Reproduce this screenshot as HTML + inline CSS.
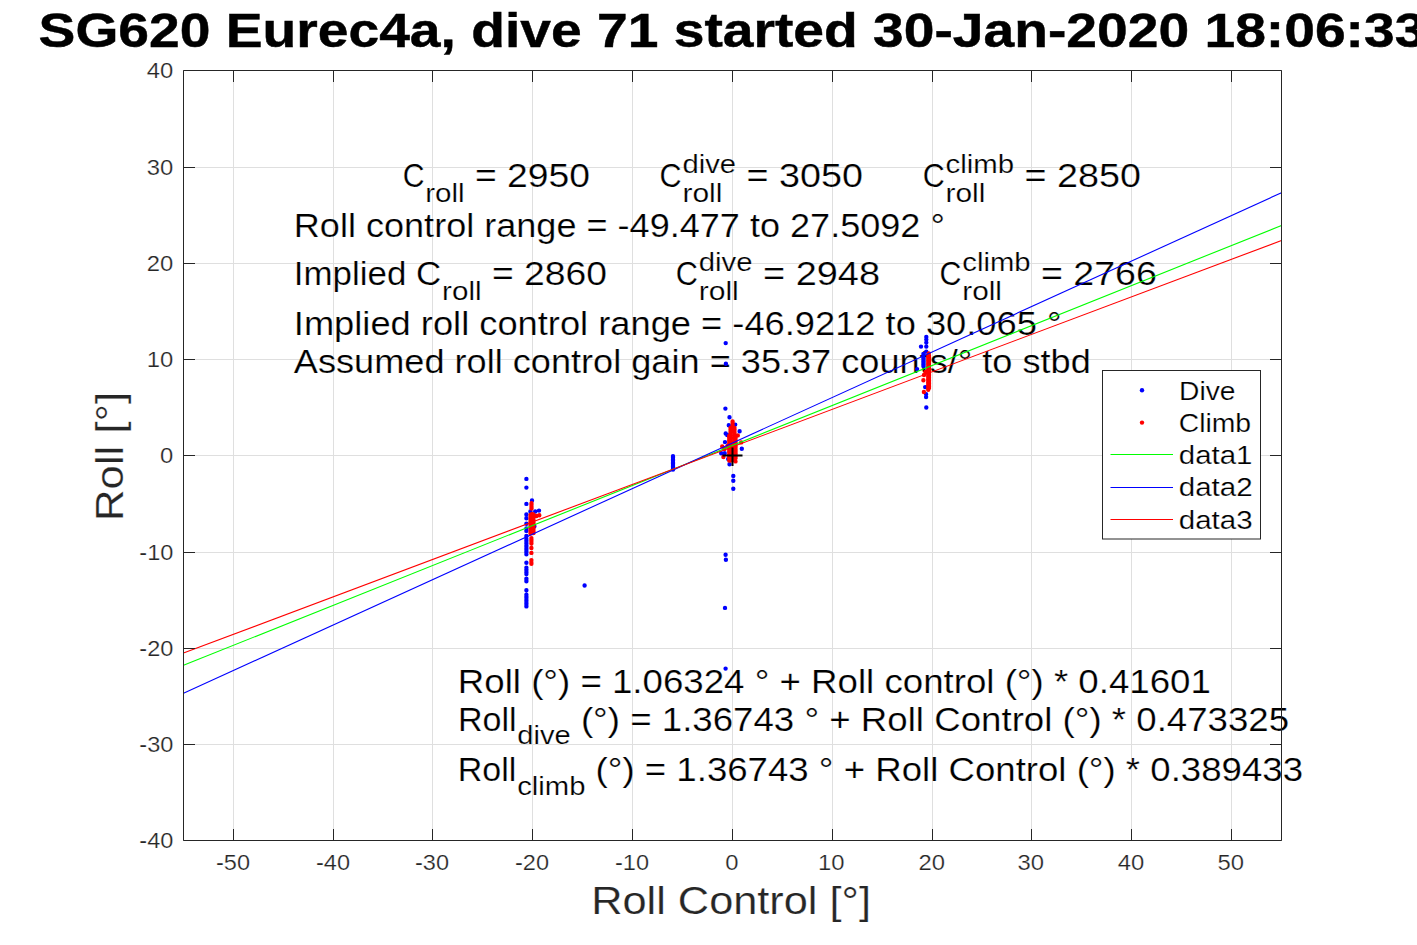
<!DOCTYPE html>
<html><head><meta charset="utf-8"><title>SG620 Eurec4a roll</title>
<style>
html,body{margin:0;padding:0;background:#fff;overflow:hidden;}
svg{display:block;font-family:"Liberation Sans",sans-serif;}
text.r{stroke:#fff;stroke-width:0.22px;}
text.b{stroke:#000;stroke-width:0.45px;}
</style></head><body>
<svg width="1417" height="945" viewBox="0 0 1417 945">
<rect width="1417" height="945" fill="#fff"/>
<path d="M233.5 70.5V840.5M333.5 70.5V840.5M432.5 70.5V840.5M532.5 70.5V840.5M632.5 70.5V840.5M732.5 70.5V840.5M832.5 70.5V840.5M932.5 70.5V840.5M1031.5 70.5V840.5M1131.5 70.5V840.5M1231.5 70.5V840.5M183.5 744.5H1281.5M183.5 648.5H1281.5M183.5 552.5H1281.5M183.5 455.5H1281.5M183.5 359.5H1281.5M183.5 263.5H1281.5M183.5 167.5H1281.5" stroke="#dfdfdf" stroke-width="1" fill="none"/>
<text class="r" x="402.65" y="186.90" font-size="32.81" fill="#000" textLength="21.79" lengthAdjust="spacingAndGlyphs" style="white-space:pre">C</text>
<text class="r" x="425.23" y="201.90" font-size="26.25" fill="#000" textLength="39.41" lengthAdjust="spacingAndGlyphs" style="white-space:pre">roll</text>
<text class="r" x="464.64" y="186.90" font-size="32.81" fill="#000" textLength="125.39" lengthAdjust="spacingAndGlyphs" style="white-space:pre"> = 2950</text>
<text class="r" x="659.58" y="186.90" font-size="32.81" fill="#000" textLength="22.06" lengthAdjust="spacingAndGlyphs" style="white-space:pre">C</text>
<text class="r" x="682.45" y="201.90" font-size="26.25" fill="#000" textLength="39.90" lengthAdjust="spacingAndGlyphs" style="white-space:pre">roll</text>
<text class="r" x="682.45" y="172.90" font-size="26.25" fill="#000" textLength="53.58" lengthAdjust="spacingAndGlyphs" style="white-space:pre">dive</text>
<text class="r" x="736.03" y="186.90" font-size="32.81" fill="#000" textLength="126.97" lengthAdjust="spacingAndGlyphs" style="white-space:pre"> = 3050</text>
<text class="r" x="922.73" y="186.90" font-size="32.81" fill="#000" textLength="22.03" lengthAdjust="spacingAndGlyphs" style="white-space:pre">C</text>
<text class="r" x="945.57" y="201.90" font-size="26.25" fill="#000" textLength="39.85" lengthAdjust="spacingAndGlyphs" style="white-space:pre">roll</text>
<text class="r" x="945.57" y="172.90" font-size="26.25" fill="#000" textLength="68.52" lengthAdjust="spacingAndGlyphs" style="white-space:pre">climb</text>
<text class="r" x="1014.09" y="186.90" font-size="32.81" fill="#000" textLength="126.81" lengthAdjust="spacingAndGlyphs" style="white-space:pre"> = 2850</text>
<text class="r" x="293.83" y="237.00" font-size="32.81" fill="#000" textLength="651.00" lengthAdjust="spacingAndGlyphs" style="white-space:pre">Roll control range = -49.477 to 27.5092 °</text>
<text class="r" x="293.84" y="285.00" font-size="32.81" fill="#000" textLength="147.49" lengthAdjust="spacingAndGlyphs" style="white-space:pre">Implied C</text>
<text class="r" x="442.13" y="299.80" font-size="26.25" fill="#000" textLength="39.42" lengthAdjust="spacingAndGlyphs" style="white-space:pre">roll</text>
<text class="r" x="481.55" y="285.00" font-size="32.81" fill="#000" textLength="125.43" lengthAdjust="spacingAndGlyphs" style="white-space:pre"> = 2860</text>
<text class="r" x="675.72" y="285.00" font-size="32.81" fill="#000" textLength="22.15" lengthAdjust="spacingAndGlyphs" style="white-space:pre">C</text>
<text class="r" x="698.68" y="300.00" font-size="26.25" fill="#000" textLength="40.07" lengthAdjust="spacingAndGlyphs" style="white-space:pre">roll</text>
<text class="r" x="698.68" y="271.00" font-size="26.25" fill="#000" textLength="53.80" lengthAdjust="spacingAndGlyphs" style="white-space:pre">dive</text>
<text class="r" x="752.48" y="285.00" font-size="32.81" fill="#000" textLength="127.49" lengthAdjust="spacingAndGlyphs" style="white-space:pre"> = 2948</text>
<text class="r" x="939.59" y="285.00" font-size="32.81" fill="#000" textLength="21.93" lengthAdjust="spacingAndGlyphs" style="white-space:pre">C</text>
<text class="r" x="962.32" y="300.00" font-size="26.25" fill="#000" textLength="39.67" lengthAdjust="spacingAndGlyphs" style="white-space:pre">roll</text>
<text class="r" x="962.32" y="271.00" font-size="26.25" fill="#000" textLength="68.22" lengthAdjust="spacingAndGlyphs" style="white-space:pre">climb</text>
<text class="r" x="1030.54" y="285.00" font-size="32.81" fill="#000" textLength="126.24" lengthAdjust="spacingAndGlyphs" style="white-space:pre"> = 2766</text>
<text class="r" x="293.83" y="334.80" font-size="32.81" fill="#000" textLength="767.64" lengthAdjust="spacingAndGlyphs" style="white-space:pre">Implied roll control range = -46.9212 to 30.065 °</text>
<text class="r" x="293.86" y="372.90" font-size="32.81" fill="#000" textLength="796.89" lengthAdjust="spacingAndGlyphs" style="white-space:pre">Assumed roll control gain = 35.37 counts/° to stbd</text>
<text class="r" x="457.81" y="692.90" font-size="32.81" fill="#000" textLength="753.06" lengthAdjust="spacingAndGlyphs" style="white-space:pre">Roll (°) = 1.06324 ° + Roll control (°) * 0.41601</text>
<text class="r" x="457.91" y="730.80" font-size="32.81" fill="#000" textLength="58.63" lengthAdjust="spacingAndGlyphs" style="white-space:pre">Roll</text>
<text class="r" x="517.34" y="744.40" font-size="26.25" fill="#000" textLength="53.38" lengthAdjust="spacingAndGlyphs" style="white-space:pre">dive</text>
<text class="r" x="570.73" y="730.80" font-size="32.81" fill="#000" textLength="718.43" lengthAdjust="spacingAndGlyphs" style="white-space:pre"> (°) = 1.36743 ° + Roll Control (°) * 0.473325</text>
<text class="r" x="457.81" y="781.00" font-size="32.81" fill="#000" textLength="58.56" lengthAdjust="spacingAndGlyphs" style="white-space:pre">Roll</text>
<text class="r" x="517.18" y="794.80" font-size="26.25" fill="#000" textLength="68.28" lengthAdjust="spacingAndGlyphs" style="white-space:pre">climb</text>
<text class="r" x="585.45" y="781.00" font-size="32.81" fill="#000" textLength="717.56" lengthAdjust="spacingAndGlyphs" style="white-space:pre"> (°) = 1.36743 ° + Roll Control (°) * 0.389433</text>
<path d="M524.2 478.9a2.2 2.2 0 1 0 4.4 0a2.2 2.2 0 1 0 -4.4 0M524.2 487.6a2.2 2.2 0 1 0 4.4 0a2.2 2.2 0 1 0 -4.4 0M529.8 500.5a2.2 2.2 0 1 0 4.4 0a2.2 2.2 0 1 0 -4.4 0M524.2 503.9a2.2 2.2 0 1 0 4.4 0a2.2 2.2 0 1 0 -4.4 0M528.2 511.5a2.2 2.2 0 1 0 4.4 0a2.2 2.2 0 1 0 -4.4 0M533.0 511.5a2.2 2.2 0 1 0 4.4 0a2.2 2.2 0 1 0 -4.4 0M536.8 510.6a2.2 2.2 0 1 0 4.4 0a2.2 2.2 0 1 0 -4.4 0M524.2 514.4a2.2 2.2 0 1 0 4.4 0a2.2 2.2 0 1 0 -4.4 0M524.2 518.3a2.2 2.2 0 1 0 4.4 0a2.2 2.2 0 1 0 -4.4 0M524.2 523.7a2.2 2.2 0 1 0 4.4 0a2.2 2.2 0 1 0 -4.4 0M524.2 528.5a2.2 2.2 0 1 0 4.4 0a2.2 2.2 0 1 0 -4.4 0M524.2 530.7a2.2 2.2 0 1 0 4.4 0a2.2 2.2 0 1 0 -4.4 0M524.2 535.9a2.2 2.2 0 1 0 4.4 0a2.2 2.2 0 1 0 -4.4 0M532.2 526.3a2.2 2.2 0 1 0 4.4 0a2.2 2.2 0 1 0 -4.4 0M524.2 530.9a2.2 2.2 0 1 0 4.4 0a2.2 2.2 0 1 0 -4.4 0M524.2 536.3a2.2 2.2 0 1 0 4.4 0a2.2 2.2 0 1 0 -4.4 0M524.2 539.0a2.2 2.2 0 1 0 4.4 0a2.2 2.2 0 1 0 -4.4 0M524.2 540.5a2.2 2.2 0 1 0 4.4 0a2.2 2.2 0 1 0 -4.4 0M524.2 542.0a2.2 2.2 0 1 0 4.4 0a2.2 2.2 0 1 0 -4.4 0M524.2 543.5a2.2 2.2 0 1 0 4.4 0a2.2 2.2 0 1 0 -4.4 0M524.2 545.3a2.2 2.2 0 1 0 4.4 0a2.2 2.2 0 1 0 -4.4 0M524.2 546.8a2.2 2.2 0 1 0 4.4 0a2.2 2.2 0 1 0 -4.4 0M524.2 548.3a2.2 2.2 0 1 0 4.4 0a2.2 2.2 0 1 0 -4.4 0M524.2 549.8a2.2 2.2 0 1 0 4.4 0a2.2 2.2 0 1 0 -4.4 0M524.2 551.3a2.2 2.2 0 1 0 4.4 0a2.2 2.2 0 1 0 -4.4 0M524.2 552.8a2.2 2.2 0 1 0 4.4 0a2.2 2.2 0 1 0 -4.4 0M524.2 554.3a2.2 2.2 0 1 0 4.4 0a2.2 2.2 0 1 0 -4.4 0M524.2 562.8a2.2 2.2 0 1 0 4.4 0a2.2 2.2 0 1 0 -4.4 0M524.2 567.8a2.2 2.2 0 1 0 4.4 0a2.2 2.2 0 1 0 -4.4 0M524.2 569.4a2.2 2.2 0 1 0 4.4 0a2.2 2.2 0 1 0 -4.4 0M524.2 571.0a2.2 2.2 0 1 0 4.4 0a2.2 2.2 0 1 0 -4.4 0M524.2 572.5a2.2 2.2 0 1 0 4.4 0a2.2 2.2 0 1 0 -4.4 0M524.2 574.1a2.2 2.2 0 1 0 4.4 0a2.2 2.2 0 1 0 -4.4 0M524.2 578.6a2.2 2.2 0 1 0 4.4 0a2.2 2.2 0 1 0 -4.4 0M524.2 580.0a2.2 2.2 0 1 0 4.4 0a2.2 2.2 0 1 0 -4.4 0M524.2 581.3a2.2 2.2 0 1 0 4.4 0a2.2 2.2 0 1 0 -4.4 0M524.2 590.3a2.2 2.2 0 1 0 4.4 0a2.2 2.2 0 1 0 -4.4 0M524.2 594.7a2.2 2.2 0 1 0 4.4 0a2.2 2.2 0 1 0 -4.4 0M524.2 596.2a2.2 2.2 0 1 0 4.4 0a2.2 2.2 0 1 0 -4.4 0M524.2 597.6a2.2 2.2 0 1 0 4.4 0a2.2 2.2 0 1 0 -4.4 0M524.2 599.1a2.2 2.2 0 1 0 4.4 0a2.2 2.2 0 1 0 -4.4 0M524.2 600.5a2.2 2.2 0 1 0 4.4 0a2.2 2.2 0 1 0 -4.4 0M524.2 602.0a2.2 2.2 0 1 0 4.4 0a2.2 2.2 0 1 0 -4.4 0M524.2 603.5a2.2 2.2 0 1 0 4.4 0a2.2 2.2 0 1 0 -4.4 0M524.2 604.9a2.2 2.2 0 1 0 4.4 0a2.2 2.2 0 1 0 -4.4 0M524.2 606.4a2.2 2.2 0 1 0 4.4 0a2.2 2.2 0 1 0 -4.4 0M582.4 585.5a2.2 2.2 0 1 0 4.4 0a2.2 2.2 0 1 0 -4.4 0M670.8 456.2a2.2 2.2 0 1 0 4.4 0a2.2 2.2 0 1 0 -4.4 0M670.8 457.7a2.2 2.2 0 1 0 4.4 0a2.2 2.2 0 1 0 -4.4 0M670.8 459.2a2.2 2.2 0 1 0 4.4 0a2.2 2.2 0 1 0 -4.4 0M670.8 460.7a2.2 2.2 0 1 0 4.4 0a2.2 2.2 0 1 0 -4.4 0M670.8 462.2a2.2 2.2 0 1 0 4.4 0a2.2 2.2 0 1 0 -4.4 0M670.8 463.6a2.2 2.2 0 1 0 4.4 0a2.2 2.2 0 1 0 -4.4 0M670.8 465.1a2.2 2.2 0 1 0 4.4 0a2.2 2.2 0 1 0 -4.4 0M670.8 466.6a2.2 2.2 0 1 0 4.4 0a2.2 2.2 0 1 0 -4.4 0M670.8 468.1a2.2 2.2 0 1 0 4.4 0a2.2 2.2 0 1 0 -4.4 0M670.8 469.6a2.2 2.2 0 1 0 4.4 0a2.2 2.2 0 1 0 -4.4 0M723.5 343.1a2.2 2.2 0 1 0 4.4 0a2.2 2.2 0 1 0 -4.4 0M723.7 363.8a2.2 2.2 0 1 0 4.4 0a2.2 2.2 0 1 0 -4.4 0M723.2 408.6a2.2 2.2 0 1 0 4.4 0a2.2 2.2 0 1 0 -4.4 0M727.3 417.3a2.2 2.2 0 1 0 4.4 0a2.2 2.2 0 1 0 -4.4 0M726.6 425.2a2.2 2.2 0 1 0 4.4 0a2.2 2.2 0 1 0 -4.4 0M733.0 424.6a2.2 2.2 0 1 0 4.4 0a2.2 2.2 0 1 0 -4.4 0M723.5 433.5a2.2 2.2 0 1 0 4.4 0a2.2 2.2 0 1 0 -4.4 0M725.0 435.0a2.2 2.2 0 1 0 4.4 0a2.2 2.2 0 1 0 -4.4 0M737.4 431.3a2.2 2.2 0 1 0 4.4 0a2.2 2.2 0 1 0 -4.4 0M722.8 442.1a2.2 2.2 0 1 0 4.4 0a2.2 2.2 0 1 0 -4.4 0M739.6 448.7a2.2 2.2 0 1 0 4.4 0a2.2 2.2 0 1 0 -4.4 0M719.0 453.2a2.2 2.2 0 1 0 4.4 0a2.2 2.2 0 1 0 -4.4 0M722.5 453.2a2.2 2.2 0 1 0 4.4 0a2.2 2.2 0 1 0 -4.4 0M727.3 464.3a2.2 2.2 0 1 0 4.4 0a2.2 2.2 0 1 0 -4.4 0M726.0 458.9a2.2 2.2 0 1 0 4.4 0a2.2 2.2 0 1 0 -4.4 0M731.1 475.9a2.2 2.2 0 1 0 4.4 0a2.2 2.2 0 1 0 -4.4 0M731.1 480.8a2.2 2.2 0 1 0 4.4 0a2.2 2.2 0 1 0 -4.4 0M731.1 488.7a2.2 2.2 0 1 0 4.4 0a2.2 2.2 0 1 0 -4.4 0M723.4 554.8a2.2 2.2 0 1 0 4.4 0a2.2 2.2 0 1 0 -4.4 0M723.7 559.7a2.2 2.2 0 1 0 4.4 0a2.2 2.2 0 1 0 -4.4 0M722.8 607.9a2.2 2.2 0 1 0 4.4 0a2.2 2.2 0 1 0 -4.4 0M723.4 668.6a2.2 2.2 0 1 0 4.4 0a2.2 2.2 0 1 0 -4.4 0M924.1 337.0a2.2 2.2 0 1 0 4.4 0a2.2 2.2 0 1 0 -4.4 0M924.1 339.5a2.2 2.2 0 1 0 4.4 0a2.2 2.2 0 1 0 -4.4 0M924.1 342.6a2.2 2.2 0 1 0 4.4 0a2.2 2.2 0 1 0 -4.4 0M918.8 346.6a2.2 2.2 0 1 0 4.4 0a2.2 2.2 0 1 0 -4.4 0M924.1 346.6a2.2 2.2 0 1 0 4.4 0a2.2 2.2 0 1 0 -4.4 0M924.1 351.6a2.2 2.2 0 1 0 4.4 0a2.2 2.2 0 1 0 -4.4 0M921.2 354.0a2.2 2.2 0 1 0 4.4 0a2.2 2.2 0 1 0 -4.4 0M921.2 355.5a2.2 2.2 0 1 0 4.4 0a2.2 2.2 0 1 0 -4.4 0M921.2 357.0a2.2 2.2 0 1 0 4.4 0a2.2 2.2 0 1 0 -4.4 0M921.2 358.5a2.2 2.2 0 1 0 4.4 0a2.2 2.2 0 1 0 -4.4 0M921.2 360.0a2.2 2.2 0 1 0 4.4 0a2.2 2.2 0 1 0 -4.4 0M921.2 361.5a2.2 2.2 0 1 0 4.4 0a2.2 2.2 0 1 0 -4.4 0M921.2 363.0a2.2 2.2 0 1 0 4.4 0a2.2 2.2 0 1 0 -4.4 0M921.2 364.5a2.2 2.2 0 1 0 4.4 0a2.2 2.2 0 1 0 -4.4 0M921.2 366.0a2.2 2.2 0 1 0 4.4 0a2.2 2.2 0 1 0 -4.4 0M914.9 369.1a2.2 2.2 0 1 0 4.4 0a2.2 2.2 0 1 0 -4.4 0M923.0 387.1a2.2 2.2 0 1 0 4.4 0a2.2 2.2 0 1 0 -4.4 0M923.9 394.3a2.2 2.2 0 1 0 4.4 0a2.2 2.2 0 1 0 -4.4 0M923.9 397.0a2.2 2.2 0 1 0 4.4 0a2.2 2.2 0 1 0 -4.4 0M924.1 407.5a2.2 2.2 0 1 0 4.4 0a2.2 2.2 0 1 0 -4.4 0" fill="#0000ff"/>
<path d="M529.3 503.2a2.2 2.2 0 1 0 4.4 0a2.2 2.2 0 1 0 -4.4 0M529.3 504.6a2.2 2.2 0 1 0 4.4 0a2.2 2.2 0 1 0 -4.4 0M529.3 505.9a2.2 2.2 0 1 0 4.4 0a2.2 2.2 0 1 0 -4.4 0M529.3 507.2a2.2 2.2 0 1 0 4.4 0a2.2 2.2 0 1 0 -4.4 0M529.3 508.6a2.2 2.2 0 1 0 4.4 0a2.2 2.2 0 1 0 -4.4 0M528.3 515.0a2.2 2.2 0 1 0 4.4 0a2.2 2.2 0 1 0 -4.4 0M528.3 516.5a2.2 2.2 0 1 0 4.4 0a2.2 2.2 0 1 0 -4.4 0M528.3 518.1a2.2 2.2 0 1 0 4.4 0a2.2 2.2 0 1 0 -4.4 0M528.3 519.6a2.2 2.2 0 1 0 4.4 0a2.2 2.2 0 1 0 -4.4 0M528.3 521.2a2.2 2.2 0 1 0 4.4 0a2.2 2.2 0 1 0 -4.4 0M528.3 522.7a2.2 2.2 0 1 0 4.4 0a2.2 2.2 0 1 0 -4.4 0M528.3 524.2a2.2 2.2 0 1 0 4.4 0a2.2 2.2 0 1 0 -4.4 0M528.3 525.8a2.2 2.2 0 1 0 4.4 0a2.2 2.2 0 1 0 -4.4 0M528.3 527.3a2.2 2.2 0 1 0 4.4 0a2.2 2.2 0 1 0 -4.4 0M528.3 528.9a2.2 2.2 0 1 0 4.4 0a2.2 2.2 0 1 0 -4.4 0M528.3 530.4a2.2 2.2 0 1 0 4.4 0a2.2 2.2 0 1 0 -4.4 0M528.3 532.0a2.2 2.2 0 1 0 4.4 0a2.2 2.2 0 1 0 -4.4 0M528.3 533.5a2.2 2.2 0 1 0 4.4 0a2.2 2.2 0 1 0 -4.4 0M531.3 514.5a2.2 2.2 0 1 0 4.4 0a2.2 2.2 0 1 0 -4.4 0M531.3 516.0a2.2 2.2 0 1 0 4.4 0a2.2 2.2 0 1 0 -4.4 0M531.3 517.6a2.2 2.2 0 1 0 4.4 0a2.2 2.2 0 1 0 -4.4 0M531.3 519.1a2.2 2.2 0 1 0 4.4 0a2.2 2.2 0 1 0 -4.4 0M531.3 520.7a2.2 2.2 0 1 0 4.4 0a2.2 2.2 0 1 0 -4.4 0M531.3 522.2a2.2 2.2 0 1 0 4.4 0a2.2 2.2 0 1 0 -4.4 0M531.3 523.8a2.2 2.2 0 1 0 4.4 0a2.2 2.2 0 1 0 -4.4 0M531.3 525.3a2.2 2.2 0 1 0 4.4 0a2.2 2.2 0 1 0 -4.4 0M531.3 526.8a2.2 2.2 0 1 0 4.4 0a2.2 2.2 0 1 0 -4.4 0M531.3 528.4a2.2 2.2 0 1 0 4.4 0a2.2 2.2 0 1 0 -4.4 0M531.3 529.9a2.2 2.2 0 1 0 4.4 0a2.2 2.2 0 1 0 -4.4 0M531.3 531.5a2.2 2.2 0 1 0 4.4 0a2.2 2.2 0 1 0 -4.4 0M531.3 533.0a2.2 2.2 0 1 0 4.4 0a2.2 2.2 0 1 0 -4.4 0M529.8 514.0a2.2 2.2 0 1 0 4.4 0a2.2 2.2 0 1 0 -4.4 0M529.8 516.0a2.2 2.2 0 1 0 4.4 0a2.2 2.2 0 1 0 -4.4 0M537.1 515.3a2.2 2.2 0 1 0 4.4 0a2.2 2.2 0 1 0 -4.4 0M534.3 516.0a2.2 2.2 0 1 0 4.4 0a2.2 2.2 0 1 0 -4.4 0M529.2 538.1a2.2 2.2 0 1 0 4.4 0a2.2 2.2 0 1 0 -4.4 0M529.2 539.5a2.2 2.2 0 1 0 4.4 0a2.2 2.2 0 1 0 -4.4 0M529.2 540.8a2.2 2.2 0 1 0 4.4 0a2.2 2.2 0 1 0 -4.4 0M529.2 542.1a2.2 2.2 0 1 0 4.4 0a2.2 2.2 0 1 0 -4.4 0M529.2 543.5a2.2 2.2 0 1 0 4.4 0a2.2 2.2 0 1 0 -4.4 0M529.2 548.0a2.2 2.2 0 1 0 4.4 0a2.2 2.2 0 1 0 -4.4 0M529.2 552.9a2.2 2.2 0 1 0 4.4 0a2.2 2.2 0 1 0 -4.4 0M529.2 560.1a2.2 2.2 0 1 0 4.4 0a2.2 2.2 0 1 0 -4.4 0M529.2 561.9a2.2 2.2 0 1 0 4.4 0a2.2 2.2 0 1 0 -4.4 0M529.2 563.7a2.2 2.2 0 1 0 4.4 0a2.2 2.2 0 1 0 -4.4 0M730.4 421.4a2.2 2.2 0 1 0 4.4 0a2.2 2.2 0 1 0 -4.4 0M730.4 422.8a2.2 2.2 0 1 0 4.4 0a2.2 2.2 0 1 0 -4.4 0M730.4 424.3a2.2 2.2 0 1 0 4.4 0a2.2 2.2 0 1 0 -4.4 0M730.4 425.7a2.2 2.2 0 1 0 4.4 0a2.2 2.2 0 1 0 -4.4 0M730.4 427.1a2.2 2.2 0 1 0 4.4 0a2.2 2.2 0 1 0 -4.4 0M730.4 428.6a2.2 2.2 0 1 0 4.4 0a2.2 2.2 0 1 0 -4.4 0M730.4 430.0a2.2 2.2 0 1 0 4.4 0a2.2 2.2 0 1 0 -4.4 0M728.3 428.0a2.2 2.2 0 1 0 4.4 0a2.2 2.2 0 1 0 -4.4 0M728.3 429.5a2.2 2.2 0 1 0 4.4 0a2.2 2.2 0 1 0 -4.4 0M728.3 431.0a2.2 2.2 0 1 0 4.4 0a2.2 2.2 0 1 0 -4.4 0M728.3 432.4a2.2 2.2 0 1 0 4.4 0a2.2 2.2 0 1 0 -4.4 0M728.3 433.9a2.2 2.2 0 1 0 4.4 0a2.2 2.2 0 1 0 -4.4 0M728.3 435.4a2.2 2.2 0 1 0 4.4 0a2.2 2.2 0 1 0 -4.4 0M728.3 436.9a2.2 2.2 0 1 0 4.4 0a2.2 2.2 0 1 0 -4.4 0M728.3 438.3a2.2 2.2 0 1 0 4.4 0a2.2 2.2 0 1 0 -4.4 0M728.3 439.8a2.2 2.2 0 1 0 4.4 0a2.2 2.2 0 1 0 -4.4 0M728.3 441.3a2.2 2.2 0 1 0 4.4 0a2.2 2.2 0 1 0 -4.4 0M728.3 442.8a2.2 2.2 0 1 0 4.4 0a2.2 2.2 0 1 0 -4.4 0M728.3 444.2a2.2 2.2 0 1 0 4.4 0a2.2 2.2 0 1 0 -4.4 0M728.3 445.7a2.2 2.2 0 1 0 4.4 0a2.2 2.2 0 1 0 -4.4 0M728.3 447.2a2.2 2.2 0 1 0 4.4 0a2.2 2.2 0 1 0 -4.4 0M728.3 448.7a2.2 2.2 0 1 0 4.4 0a2.2 2.2 0 1 0 -4.4 0M728.3 450.2a2.2 2.2 0 1 0 4.4 0a2.2 2.2 0 1 0 -4.4 0M728.3 451.6a2.2 2.2 0 1 0 4.4 0a2.2 2.2 0 1 0 -4.4 0M728.3 453.1a2.2 2.2 0 1 0 4.4 0a2.2 2.2 0 1 0 -4.4 0M728.3 454.6a2.2 2.2 0 1 0 4.4 0a2.2 2.2 0 1 0 -4.4 0M728.3 456.1a2.2 2.2 0 1 0 4.4 0a2.2 2.2 0 1 0 -4.4 0M728.3 457.5a2.2 2.2 0 1 0 4.4 0a2.2 2.2 0 1 0 -4.4 0M728.3 459.0a2.2 2.2 0 1 0 4.4 0a2.2 2.2 0 1 0 -4.4 0M728.3 460.5a2.2 2.2 0 1 0 4.4 0a2.2 2.2 0 1 0 -4.4 0M732.3 428.0a2.2 2.2 0 1 0 4.4 0a2.2 2.2 0 1 0 -4.4 0M732.3 429.5a2.2 2.2 0 1 0 4.4 0a2.2 2.2 0 1 0 -4.4 0M732.3 431.0a2.2 2.2 0 1 0 4.4 0a2.2 2.2 0 1 0 -4.4 0M732.3 432.4a2.2 2.2 0 1 0 4.4 0a2.2 2.2 0 1 0 -4.4 0M732.3 433.9a2.2 2.2 0 1 0 4.4 0a2.2 2.2 0 1 0 -4.4 0M732.3 435.4a2.2 2.2 0 1 0 4.4 0a2.2 2.2 0 1 0 -4.4 0M732.3 436.9a2.2 2.2 0 1 0 4.4 0a2.2 2.2 0 1 0 -4.4 0M732.3 438.3a2.2 2.2 0 1 0 4.4 0a2.2 2.2 0 1 0 -4.4 0M732.3 439.8a2.2 2.2 0 1 0 4.4 0a2.2 2.2 0 1 0 -4.4 0M732.3 441.3a2.2 2.2 0 1 0 4.4 0a2.2 2.2 0 1 0 -4.4 0M732.3 442.8a2.2 2.2 0 1 0 4.4 0a2.2 2.2 0 1 0 -4.4 0M732.3 444.2a2.2 2.2 0 1 0 4.4 0a2.2 2.2 0 1 0 -4.4 0M732.3 445.7a2.2 2.2 0 1 0 4.4 0a2.2 2.2 0 1 0 -4.4 0M732.3 447.2a2.2 2.2 0 1 0 4.4 0a2.2 2.2 0 1 0 -4.4 0M732.3 448.7a2.2 2.2 0 1 0 4.4 0a2.2 2.2 0 1 0 -4.4 0M732.3 450.2a2.2 2.2 0 1 0 4.4 0a2.2 2.2 0 1 0 -4.4 0M732.3 451.6a2.2 2.2 0 1 0 4.4 0a2.2 2.2 0 1 0 -4.4 0M732.3 453.1a2.2 2.2 0 1 0 4.4 0a2.2 2.2 0 1 0 -4.4 0M732.3 454.6a2.2 2.2 0 1 0 4.4 0a2.2 2.2 0 1 0 -4.4 0M732.3 456.1a2.2 2.2 0 1 0 4.4 0a2.2 2.2 0 1 0 -4.4 0M732.3 457.5a2.2 2.2 0 1 0 4.4 0a2.2 2.2 0 1 0 -4.4 0M732.3 459.0a2.2 2.2 0 1 0 4.4 0a2.2 2.2 0 1 0 -4.4 0M732.3 460.5a2.2 2.2 0 1 0 4.4 0a2.2 2.2 0 1 0 -4.4 0M727.0 436.0a2.2 2.2 0 1 0 4.4 0a2.2 2.2 0 1 0 -4.4 0M727.0 437.5a2.2 2.2 0 1 0 4.4 0a2.2 2.2 0 1 0 -4.4 0M727.0 439.1a2.2 2.2 0 1 0 4.4 0a2.2 2.2 0 1 0 -4.4 0M727.0 440.6a2.2 2.2 0 1 0 4.4 0a2.2 2.2 0 1 0 -4.4 0M727.0 442.1a2.2 2.2 0 1 0 4.4 0a2.2 2.2 0 1 0 -4.4 0M727.0 443.7a2.2 2.2 0 1 0 4.4 0a2.2 2.2 0 1 0 -4.4 0M727.0 445.2a2.2 2.2 0 1 0 4.4 0a2.2 2.2 0 1 0 -4.4 0M727.0 446.7a2.2 2.2 0 1 0 4.4 0a2.2 2.2 0 1 0 -4.4 0M727.0 448.2a2.2 2.2 0 1 0 4.4 0a2.2 2.2 0 1 0 -4.4 0M727.0 449.8a2.2 2.2 0 1 0 4.4 0a2.2 2.2 0 1 0 -4.4 0M727.0 451.3a2.2 2.2 0 1 0 4.4 0a2.2 2.2 0 1 0 -4.4 0M727.0 452.8a2.2 2.2 0 1 0 4.4 0a2.2 2.2 0 1 0 -4.4 0M727.0 454.4a2.2 2.2 0 1 0 4.4 0a2.2 2.2 0 1 0 -4.4 0M727.0 455.9a2.2 2.2 0 1 0 4.4 0a2.2 2.2 0 1 0 -4.4 0M727.0 457.4a2.2 2.2 0 1 0 4.4 0a2.2 2.2 0 1 0 -4.4 0M727.0 459.0a2.2 2.2 0 1 0 4.4 0a2.2 2.2 0 1 0 -4.4 0M727.0 460.5a2.2 2.2 0 1 0 4.4 0a2.2 2.2 0 1 0 -4.4 0M733.4 436.0a2.2 2.2 0 1 0 4.4 0a2.2 2.2 0 1 0 -4.4 0M733.4 437.5a2.2 2.2 0 1 0 4.4 0a2.2 2.2 0 1 0 -4.4 0M733.4 438.9a2.2 2.2 0 1 0 4.4 0a2.2 2.2 0 1 0 -4.4 0M733.4 440.4a2.2 2.2 0 1 0 4.4 0a2.2 2.2 0 1 0 -4.4 0M733.4 441.9a2.2 2.2 0 1 0 4.4 0a2.2 2.2 0 1 0 -4.4 0M733.4 443.3a2.2 2.2 0 1 0 4.4 0a2.2 2.2 0 1 0 -4.4 0M733.4 444.8a2.2 2.2 0 1 0 4.4 0a2.2 2.2 0 1 0 -4.4 0M733.4 446.3a2.2 2.2 0 1 0 4.4 0a2.2 2.2 0 1 0 -4.4 0M733.4 447.7a2.2 2.2 0 1 0 4.4 0a2.2 2.2 0 1 0 -4.4 0M733.4 449.2a2.2 2.2 0 1 0 4.4 0a2.2 2.2 0 1 0 -4.4 0M733.4 450.7a2.2 2.2 0 1 0 4.4 0a2.2 2.2 0 1 0 -4.4 0M733.4 452.1a2.2 2.2 0 1 0 4.4 0a2.2 2.2 0 1 0 -4.4 0M733.4 453.6a2.2 2.2 0 1 0 4.4 0a2.2 2.2 0 1 0 -4.4 0M733.4 455.1a2.2 2.2 0 1 0 4.4 0a2.2 2.2 0 1 0 -4.4 0M733.4 456.5a2.2 2.2 0 1 0 4.4 0a2.2 2.2 0 1 0 -4.4 0M733.4 458.0a2.2 2.2 0 1 0 4.4 0a2.2 2.2 0 1 0 -4.4 0M735.6 435.4a2.2 2.2 0 1 0 4.4 0a2.2 2.2 0 1 0 -4.4 0M720.0 446.5a2.2 2.2 0 1 0 4.4 0a2.2 2.2 0 1 0 -4.4 0M721.2 457.0a2.2 2.2 0 1 0 4.4 0a2.2 2.2 0 1 0 -4.4 0M739.0 442.4a2.2 2.2 0 1 0 4.4 0a2.2 2.2 0 1 0 -4.4 0M733.3 461.4a2.2 2.2 0 1 0 4.4 0a2.2 2.2 0 1 0 -4.4 0M722.3 449.0a2.2 2.2 0 1 0 4.4 0a2.2 2.2 0 1 0 -4.4 0M725.3 446.0a2.2 2.2 0 1 0 4.4 0a2.2 2.2 0 1 0 -4.4 0M926.6 353.4a2.2 2.2 0 1 0 4.4 0a2.2 2.2 0 1 0 -4.4 0M926.6 355.0a2.2 2.2 0 1 0 4.4 0a2.2 2.2 0 1 0 -4.4 0M926.6 356.7a2.2 2.2 0 1 0 4.4 0a2.2 2.2 0 1 0 -4.4 0M926.6 358.4a2.2 2.2 0 1 0 4.4 0a2.2 2.2 0 1 0 -4.4 0M926.6 360.0a2.2 2.2 0 1 0 4.4 0a2.2 2.2 0 1 0 -4.4 0M926.0 356.0a2.2 2.2 0 1 0 4.4 0a2.2 2.2 0 1 0 -4.4 0M926.0 357.5a2.2 2.2 0 1 0 4.4 0a2.2 2.2 0 1 0 -4.4 0M926.0 358.9a2.2 2.2 0 1 0 4.4 0a2.2 2.2 0 1 0 -4.4 0M926.0 360.4a2.2 2.2 0 1 0 4.4 0a2.2 2.2 0 1 0 -4.4 0M926.0 361.9a2.2 2.2 0 1 0 4.4 0a2.2 2.2 0 1 0 -4.4 0M926.0 363.3a2.2 2.2 0 1 0 4.4 0a2.2 2.2 0 1 0 -4.4 0M926.0 364.8a2.2 2.2 0 1 0 4.4 0a2.2 2.2 0 1 0 -4.4 0M926.0 366.3a2.2 2.2 0 1 0 4.4 0a2.2 2.2 0 1 0 -4.4 0M926.0 367.8a2.2 2.2 0 1 0 4.4 0a2.2 2.2 0 1 0 -4.4 0M926.0 369.2a2.2 2.2 0 1 0 4.4 0a2.2 2.2 0 1 0 -4.4 0M926.0 370.7a2.2 2.2 0 1 0 4.4 0a2.2 2.2 0 1 0 -4.4 0M926.0 372.2a2.2 2.2 0 1 0 4.4 0a2.2 2.2 0 1 0 -4.4 0M926.0 373.6a2.2 2.2 0 1 0 4.4 0a2.2 2.2 0 1 0 -4.4 0M926.0 375.1a2.2 2.2 0 1 0 4.4 0a2.2 2.2 0 1 0 -4.4 0M926.0 376.6a2.2 2.2 0 1 0 4.4 0a2.2 2.2 0 1 0 -4.4 0M926.0 378.0a2.2 2.2 0 1 0 4.4 0a2.2 2.2 0 1 0 -4.4 0M926.0 379.5a2.2 2.2 0 1 0 4.4 0a2.2 2.2 0 1 0 -4.4 0M926.0 381.0a2.2 2.2 0 1 0 4.4 0a2.2 2.2 0 1 0 -4.4 0M926.0 382.5a2.2 2.2 0 1 0 4.4 0a2.2 2.2 0 1 0 -4.4 0M926.0 383.9a2.2 2.2 0 1 0 4.4 0a2.2 2.2 0 1 0 -4.4 0M926.0 385.4a2.2 2.2 0 1 0 4.4 0a2.2 2.2 0 1 0 -4.4 0M926.0 386.9a2.2 2.2 0 1 0 4.4 0a2.2 2.2 0 1 0 -4.4 0M926.0 388.3a2.2 2.2 0 1 0 4.4 0a2.2 2.2 0 1 0 -4.4 0M926.0 389.8a2.2 2.2 0 1 0 4.4 0a2.2 2.2 0 1 0 -4.4 0M926.8 356.0a2.2 2.2 0 1 0 4.4 0a2.2 2.2 0 1 0 -4.4 0M926.8 357.5a2.2 2.2 0 1 0 4.4 0a2.2 2.2 0 1 0 -4.4 0M926.8 359.0a2.2 2.2 0 1 0 4.4 0a2.2 2.2 0 1 0 -4.4 0M926.8 360.6a2.2 2.2 0 1 0 4.4 0a2.2 2.2 0 1 0 -4.4 0M926.8 362.1a2.2 2.2 0 1 0 4.4 0a2.2 2.2 0 1 0 -4.4 0M926.8 363.6a2.2 2.2 0 1 0 4.4 0a2.2 2.2 0 1 0 -4.4 0M926.8 365.1a2.2 2.2 0 1 0 4.4 0a2.2 2.2 0 1 0 -4.4 0M926.8 366.7a2.2 2.2 0 1 0 4.4 0a2.2 2.2 0 1 0 -4.4 0M926.8 368.2a2.2 2.2 0 1 0 4.4 0a2.2 2.2 0 1 0 -4.4 0M926.8 369.7a2.2 2.2 0 1 0 4.4 0a2.2 2.2 0 1 0 -4.4 0M926.8 371.2a2.2 2.2 0 1 0 4.4 0a2.2 2.2 0 1 0 -4.4 0M926.8 372.8a2.2 2.2 0 1 0 4.4 0a2.2 2.2 0 1 0 -4.4 0M926.8 374.3a2.2 2.2 0 1 0 4.4 0a2.2 2.2 0 1 0 -4.4 0M926.8 375.8a2.2 2.2 0 1 0 4.4 0a2.2 2.2 0 1 0 -4.4 0M926.8 377.3a2.2 2.2 0 1 0 4.4 0a2.2 2.2 0 1 0 -4.4 0M926.8 378.9a2.2 2.2 0 1 0 4.4 0a2.2 2.2 0 1 0 -4.4 0M926.8 380.4a2.2 2.2 0 1 0 4.4 0a2.2 2.2 0 1 0 -4.4 0M926.8 381.9a2.2 2.2 0 1 0 4.4 0a2.2 2.2 0 1 0 -4.4 0M926.8 383.4a2.2 2.2 0 1 0 4.4 0a2.2 2.2 0 1 0 -4.4 0M926.8 385.0a2.2 2.2 0 1 0 4.4 0a2.2 2.2 0 1 0 -4.4 0M926.8 386.5a2.2 2.2 0 1 0 4.4 0a2.2 2.2 0 1 0 -4.4 0M926.8 388.0a2.2 2.2 0 1 0 4.4 0a2.2 2.2 0 1 0 -4.4 0M921.8 375.0a2.2 2.2 0 1 0 4.4 0a2.2 2.2 0 1 0 -4.4 0M921.2 380.3a2.2 2.2 0 1 0 4.4 0a2.2 2.2 0 1 0 -4.4 0M921.7 392.0a2.2 2.2 0 1 0 4.4 0a2.2 2.2 0 1 0 -4.4 0M923.3 372.0a2.2 2.2 0 1 0 4.4 0a2.2 2.2 0 1 0 -4.4 0" fill="#ff0000"/>
<path d="M183.5 665.3L1281.5 225.5" stroke="#00ff00" stroke-width="1.1" fill="none"/>
<path d="M183.5 693.2L1281.5 192.7" stroke="#0000ff" stroke-width="1.1" fill="none"/>
<path d="M183.5 653.1L1281.5 240.5" stroke="#ff0000" stroke-width="1.1" fill="none"/>
<path d="M722.5 455.5H742.5M732.5 447.5V466" stroke="#000" stroke-width="2" fill="none"/>
<path d="M183.5 70.5H1281.5V840.5H183.5ZM233.5 840.5V829.0M233.5 70.5V82.0M333.5 840.5V829.0M333.5 70.5V82.0M432.5 840.5V829.0M432.5 70.5V82.0M532.5 840.5V829.0M532.5 70.5V82.0M632.5 840.5V829.0M632.5 70.5V82.0M732.5 840.5V829.0M732.5 70.5V82.0M832.5 840.5V829.0M832.5 70.5V82.0M932.5 840.5V829.0M932.5 70.5V82.0M1031.5 840.5V829.0M1031.5 70.5V82.0M1131.5 840.5V829.0M1131.5 70.5V82.0M1231.5 840.5V829.0M1231.5 70.5V82.0M183.5 840.5H195.0M1281.5 840.5H1270.0M183.5 744.5H195.0M1281.5 744.5H1270.0M183.5 648.5H195.0M1281.5 648.5H1270.0M183.5 552.5H195.0M1281.5 552.5H1270.0M183.5 455.5H195.0M1281.5 455.5H1270.0M183.5 359.5H195.0M1281.5 359.5H1270.0M183.5 263.5H195.0M1281.5 263.5H1270.0M183.5 167.5H195.0M1281.5 167.5H1270.0M183.5 70.5H195.0M1281.5 70.5H1270.0" stroke="#262626" stroke-width="1" fill="none"/>
<text class="r" x="215.97" y="869.60" font-size="21.87" fill="#262626" textLength="34.02" lengthAdjust="spacingAndGlyphs" style="white-space:pre">-50</text>
<text class="r" x="315.97" y="869.60" font-size="21.87" fill="#262626" textLength="34.02" lengthAdjust="spacingAndGlyphs" style="white-space:pre">-40</text>
<text class="r" x="414.97" y="869.60" font-size="21.87" fill="#262626" textLength="34.02" lengthAdjust="spacingAndGlyphs" style="white-space:pre">-30</text>
<text class="r" x="514.97" y="869.60" font-size="21.87" fill="#262626" textLength="34.02" lengthAdjust="spacingAndGlyphs" style="white-space:pre">-20</text>
<text class="r" x="614.97" y="869.60" font-size="21.87" fill="#262626" textLength="34.02" lengthAdjust="spacingAndGlyphs" style="white-space:pre">-10</text>
<text class="r" x="725.18" y="869.60" font-size="21.87" fill="#262626" textLength="13.25" lengthAdjust="spacingAndGlyphs" style="white-space:pre">0</text>
<text class="r" x="818.09" y="869.60" font-size="21.87" fill="#262626" textLength="26.51" lengthAdjust="spacingAndGlyphs" style="white-space:pre">10</text>
<text class="r" x="918.48" y="869.60" font-size="21.87" fill="#262626" textLength="26.51" lengthAdjust="spacingAndGlyphs" style="white-space:pre">20</text>
<text class="r" x="1017.45" y="869.60" font-size="21.87" fill="#262626" textLength="26.51" lengthAdjust="spacingAndGlyphs" style="white-space:pre">30</text>
<text class="r" x="1117.73" y="869.60" font-size="21.87" fill="#262626" textLength="26.51" lengthAdjust="spacingAndGlyphs" style="white-space:pre">40</text>
<text class="r" x="1217.44" y="869.60" font-size="21.87" fill="#262626" textLength="26.51" lengthAdjust="spacingAndGlyphs" style="white-space:pre">50</text>
<text class="r" x="139.36" y="847.85" font-size="21.87" fill="#262626" textLength="34.02" lengthAdjust="spacingAndGlyphs" style="white-space:pre">-40</text>
<text class="r" x="139.36" y="751.85" font-size="21.87" fill="#262626" textLength="34.02" lengthAdjust="spacingAndGlyphs" style="white-space:pre">-30</text>
<text class="r" x="139.36" y="655.85" font-size="21.87" fill="#262626" textLength="34.02" lengthAdjust="spacingAndGlyphs" style="white-space:pre">-20</text>
<text class="r" x="139.36" y="559.85" font-size="21.87" fill="#262626" textLength="34.02" lengthAdjust="spacingAndGlyphs" style="white-space:pre">-10</text>
<text class="r" x="160.13" y="462.85" font-size="21.87" fill="#262626" textLength="13.25" lengthAdjust="spacingAndGlyphs" style="white-space:pre">0</text>
<text class="r" x="146.88" y="366.85" font-size="21.87" fill="#262626" textLength="26.51" lengthAdjust="spacingAndGlyphs" style="white-space:pre">10</text>
<text class="r" x="146.88" y="270.85" font-size="21.87" fill="#262626" textLength="26.51" lengthAdjust="spacingAndGlyphs" style="white-space:pre">20</text>
<text class="r" x="146.88" y="174.85" font-size="21.87" fill="#262626" textLength="26.51" lengthAdjust="spacingAndGlyphs" style="white-space:pre">30</text>
<text class="r" x="146.88" y="77.85" font-size="21.87" fill="#262626" textLength="26.51" lengthAdjust="spacingAndGlyphs" style="white-space:pre">40</text>
<text class="r" x="591.20" y="913.80" font-size="39.38" fill="#262626" textLength="279.74" lengthAdjust="spacingAndGlyphs" style="white-space:pre">Roll Control [°]</text>
<g transform="translate(122.9 517.3) rotate(-90)">
<text class="r" x="-3.66" y="0.00" font-size="39.38" fill="#262626" textLength="129.17" lengthAdjust="spacingAndGlyphs" style="white-space:pre">Roll [°]</text>
</g>
<text class="b" x="38.62" y="47.00" font-size="48.12" fill="#000" font-weight="bold" textLength="1386.76" lengthAdjust="spacingAndGlyphs" style="white-space:pre">SG620 Eurec4a, dive 71 started 30-Jan-2020 18:06:33</text>
<rect x="1102.5" y="370.5" width="158" height="168.5" fill="#fff" stroke="#262626" stroke-width="1"/>
<path d="M1139.8 390.3a2.2 2.2 0 1 0 4.4 0a2.2 2.2 0 1 0 -4.4 0" fill="#0000ff"/>
<path d="M1139.8 422.6a2.2 2.2 0 1 0 4.4 0a2.2 2.2 0 1 0 -4.4 0" fill="#ff0000"/>
<path d="M1110.5 454.5H1173" stroke="#00ff00" stroke-width="1" fill="none"/>
<path d="M1110.5 487.5H1173" stroke="#0000ff" stroke-width="1" fill="none"/>
<path d="M1110.5 519.5H1173" stroke="#ff0000" stroke-width="1" fill="none"/>
<text class="r" x="1179.04" y="399.80" font-size="26.25" fill="#000" textLength="56.49" lengthAdjust="spacingAndGlyphs" style="white-space:pre">Dive</text>
<text class="r" x="1178.68" y="431.80" font-size="26.25" fill="#000" textLength="72.46" lengthAdjust="spacingAndGlyphs" style="white-space:pre">Climb</text>
<text class="r" x="1178.79" y="464.00" font-size="26.25" fill="#000" textLength="73.66" lengthAdjust="spacingAndGlyphs" style="white-space:pre">data1</text>
<text class="r" x="1178.79" y="496.30" font-size="26.25" fill="#000" textLength="73.87" lengthAdjust="spacingAndGlyphs" style="white-space:pre">data2</text>
<text class="r" x="1178.79" y="528.60" font-size="26.25" fill="#000" textLength="73.86" lengthAdjust="spacingAndGlyphs" style="white-space:pre">data3</text>
</svg>
</body></html>
